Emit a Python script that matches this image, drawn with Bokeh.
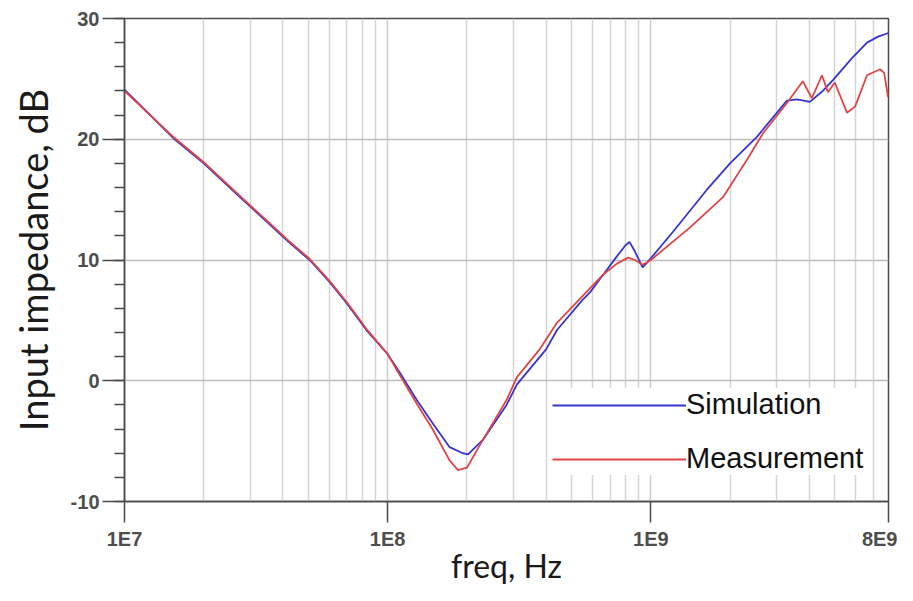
from bokeh.plotting import figure
from bokeh.models import FixedTicker, CustomJSTickFormatter, Legend, LegendItem, Range1d
from bokeh.embed import file_html
from bokeh.resources import INLINE

# ---- data ----
sim_freq = [1e7, 1.55e7, 2e7, 2.81e7, 3.5e7, 4.2e7, 5.05e7, 6e7, 7e7, 8.3e7,
            1e8, 1.11e8, 1.29e8, 1.48e8, 1.72e8, 1.93e8, 2.02e8, 2.3e8, 2.83e8, 3.1e8,
            4.0e8, 4.4e8, 5.5e8, 5.86e8, 6.6e8, 7.43e8, 8.0e8, 8.3e8, 8.7e8, 9.3e8,
            9.7e8, 1.21e9, 1.63e9, 2.0e9, 2.53e9, 3.29e9, 3.6e9, 4.02e9, 4.5e9, 4.92e9,
            5.8e9, 6.63e9, 7.3e9, 8e9]
sim_db = [24.1, 20.0, 18.0, 15.0, 13.1, 11.5, 10.0, 8.2, 6.4, 4.2,
          2.2, 0.7, -1.6, -3.5, -5.5, -6.0, -6.1, -4.9, -2.0, -0.3,
          2.6, 4.2, 6.7, 7.3, 8.8, 10.3, 11.2, 11.5, 10.7, 9.4,
          9.8, 12.3, 15.8, 18.0, 20.2, 23.2, 23.3, 23.1, 24.0, 24.9,
          26.7, 28.0, 28.5, 28.8]

meas_freq = [1e7, 1.55e7, 2e7, 2.81e7, 3.5e7, 4.2e7, 5.05e7, 6e7, 7e7, 8.3e7,
             1e8, 1.11e8, 1.29e8, 1.48e8, 1.72e8, 1.85e8, 2.0e8, 2.3e8, 2.83e8, 3.1e8,
             3.78e8, 4.4e8, 5.5e8, 6.6e8, 7.43e8, 8.2e8, 8.7e8, 9.3e8, 1e9, 1.41e9,
             1.88e9, 2.32e9, 2.67e9, 3.29e9, 3.78e9, 4.09e9, 4.47e9, 4.71e9, 5.0e9, 5.56e9,
             5.97e9, 6.63e9, 7.43e9, 7.7e9, 7.97e9]
meas_db = [24.0, 20.1, 18.1, 15.1, 13.2, 11.6, 10.1, 8.3, 6.5, 4.3,
           2.2, 0.5, -1.9, -4.0, -6.6, -7.4, -7.2, -4.9, -1.6, 0.3,
           2.6, 4.8, 7.0, 8.8, 9.7, 10.2, 10.0, 9.6, 10.0, 12.7,
           15.2, 18.3, 20.5, 23.0, 24.8, 23.4, 25.3, 23.9, 24.7, 22.2,
           22.7, 25.3, 25.8, 25.5, 23.5]

x_ticks = [1e7, 1e8, 1e9, 8e9]
x_tick_labels = ["1E7", "1E8", "1E9", "8E9"]
x_minor = [2e7, 3e7, 4e7, 5e7, 6e7, 7e7, 8e7, 9e7,
           2e8, 3e8, 4e8, 5e8, 6e8, 7e8, 8e8, 9e8,
           2e9, 3e9, 4e9, 5e9, 6e9, 7e9]
y_ticks = [-10, 0, 10, 20, 30]
y_minor = list(range(-10, 31, 2))

p = figure(x_axis_type="log", x_range=Range1d(1e7, 8e9), y_range=Range1d(-10, 30),
           frame_width=764, frame_height=483,
           min_border_left=124, min_border_right=9, min_border_top=18, min_border_bottom=84,
           output_backend="svg", toolbar_location=None)

p.background_fill_color = "white"
p.border_fill_color = "white"
p.outline_line_color = "#4a4a4a"
p.outline_line_width = 1.5

# grid
p.xgrid.grid_line_color = "#cccccc"
p.xgrid.grid_line_width = 1.5
p.xgrid.minor_grid_line_color = "#d4d4d4"
p.xgrid.minor_grid_line_width = 1.5
p.ygrid.grid_line_color = "#bdbdbd"
p.ygrid.grid_line_width = 1.5

# x axis
p.xaxis.ticker = FixedTicker(ticks=x_ticks, minor_ticks=x_minor)
p.xaxis.formatter = CustomJSTickFormatter(args=dict(tv=x_ticks, labs=x_tick_labels), code="""
    for (let i = 0; i < tv.length; i++) {
        if (Math.abs(Math.log10(tv[i]) - Math.log10(tick)) < 1e-6) { return labs[i]; }
    }
    return "";
""")
p.xaxis.major_tick_out = 21
p.xaxis.major_tick_in = 0
p.xaxis.minor_tick_out = 0
p.xaxis.minor_tick_in = 0
p.xaxis.major_label_standoff = 5
p.xaxis.axis_label = "freq, Hz"
p.xaxis.axis_label_standoff = -7

# y axis
p.yaxis.ticker = FixedTicker(ticks=y_ticks, minor_ticks=y_minor)
p.yaxis.formatter = CustomJSTickFormatter(code="return tick.toFixed(0);")
p.yaxis.major_tick_out = 22
p.yaxis.major_tick_in = 0
p.yaxis.minor_tick_out = 10
p.yaxis.minor_tick_in = 0
p.yaxis.major_label_standoff = 3
p.yaxis.axis_label = "Input impedance, dB"
p.yaxis.axis_label_standoff = 12

for ax in (p.xaxis[0], p.yaxis[0]):
    ax.axis_line_color = "#4a4a4a"
    ax.axis_line_width = 1.5
    ax.major_tick_line_color = "#4a4a4a"
    ax.major_tick_line_width = 1.5
    ax.minor_tick_line_color = "#4a4a4a"
    ax.minor_tick_line_width = 1.5
    ax.major_label_text_font = "Liberation Sans"
    ax.major_label_text_font_size = "20px"
    ax.major_label_text_font_style = "bold"
    ax.major_label_text_color = "#4d4d4d"
    ax.axis_label_text_font = "Lato"
    ax.axis_label_text_font_style = "normal"
    ax.axis_label_text_color = "#1a1a1a"

p.xaxis.axis_label_text_font_size = "32px"
p.yaxis.axis_label_text_font_size = "38px"

# data lines
r_sim = p.line(sim_freq, sim_db, line_color="#3535d0", line_width=1.8)
r_meas = p.line(meas_freq, meas_db, line_color="#e04545", line_width=1.8)

legend = Legend(items=[LegendItem(label="Simulation", renderers=[r_sim]),
                       LegendItem(label="Measurement", renderers=[r_meas])],
                location=(428, 26), orientation="vertical",
                glyph_width=134, glyph_height=30, spacing=21, padding=10, margin=0,
                label_standoff=0,
                label_text_font="Liberation Sans", label_text_font_size="29px",
                label_text_color="#111111",
                background_fill_color="white", background_fill_alpha=1.0,
                border_line_color=None)
p.add_layout(legend, "center")

open("out.html", "w").write(file_html(p, INLINE))
